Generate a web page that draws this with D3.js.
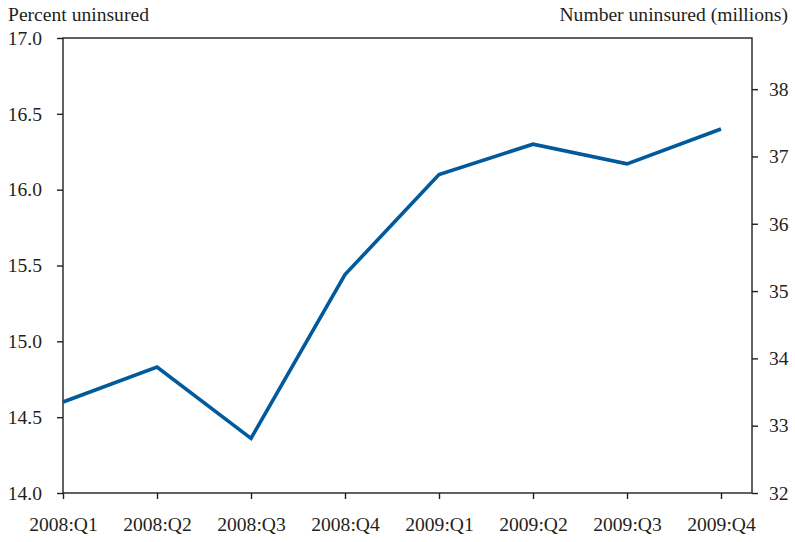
<!DOCTYPE html>
<html>
<head>
<meta charset="utf-8">
<script src="https://cdn.jsdelivr.net/npm/d3@7"></script>
<style>
  body { margin: 0; background: #fff; }
</style>
</head>
<body>
<script>
const quarters = ["2008:Q1", "2008:Q2", "2008:Q3", "2008:Q4", "2009:Q1", "2009:Q2", "2009:Q3", "2009:Q4"]
const percentUninsured = [14.6, 14.83, 14.36, 15.44, 16.1, 16.3, 16.17, 16.4]
const leftTicks = [14.0, 14.5, 15.0, 15.5, 16.0, 16.5, 17.0]
const rightTicks = [32, 33, 34, 35, 36, 37, 38]

const width = 795, height = 542
const margin = ({ top: 38, right: 43, bottom: 49, left: 63 })
const serif = '"Liberation Serif", "Times New Roman", Times, serif'
const ink = '#231f20'
const fontSize = 19.6

const svg = d3.select('body')
  .append('svg')
  .attr('width', width)
  .attr('height', height)

// quarters sit on ticks, frame runs a bit past the last one
const x = d3.scaleLinear()
  .domain([0, quarters.length - 1])
  .range([margin.left, 721])

const y = d3.scaleLinear()
  .domain([14, 17])
  .range([height - margin.bottom, margin.top])

const y2 = d3.scaleLinear()
  .domain([32, 38.76])
  .range([height - margin.bottom, margin.top])

const frameRight = width - margin.right

// frame
svg.append('rect')
  .attr('x', margin.left)
  .attr('y', margin.top)
  .attr('width', frameRight - margin.left)
  .attr('height', height - margin.bottom - margin.top)
  .attr('fill', 'none')
  .attr('stroke', ink)
  .attr('stroke-width', 1.4)

const styleAxis = g => {
  g.attr('font-family', serif).attr('font-size', fontSize)
  g.select('.domain').remove()
  g.selectAll('.tick line').attr('stroke', ink).attr('stroke-width', 1.4)
  g.selectAll('.tick text').attr('fill', ink)
}

svg.append('g')
  .attr('transform', `translate(${margin.left},0)`)
  .call(d3.axisLeft(y).tickValues(leftTicks).tickFormat(d3.format('.1f')).tickSize(6).tickPadding(15))
  .call(styleAxis)

svg.append('g')
  .attr('transform', `translate(${frameRight},0)`)
  .call(d3.axisRight(y2).tickValues(rightTicks).tickFormat(d3.format('d')).tickSize(6).tickPadding(11))
  .call(styleAxis)

svg.append('g')
  .attr('transform', `translate(0,${height - margin.bottom})`)
  .call(d3.axisBottom(x).tickValues(d3.range(quarters.length)).tickFormat(i => quarters[i]).tickSize(6).tickPadding(18))
  .call(styleAxis)

svg.append('text')
  .attr('x', 8)
  .attr('y', 21)
  .attr('font-family', serif)
  .attr('font-size', fontSize)
  .attr('fill', ink)
  .text('Percent uninsured')

svg.append('text')
  .attr('x', 788)
  .attr('y', 21)
  .attr('font-family', serif)
  .attr('font-size', fontSize)
  .attr('fill', ink)
  .attr('text-anchor', 'end')
  .text('Number uninsured (millions)')

const line = d3.line()
  .x((d, i) => x(i))
  .y(d => y(d))

svg.append('path')
  .datum(percentUninsured)
  .attr('fill', 'none')
  .attr('stroke', '#005a9c')
  .attr('stroke-width', 3.6)
  .attr('stroke-linejoin', 'miter')
  .attr('d', line)
</script>
</body>
</html>
